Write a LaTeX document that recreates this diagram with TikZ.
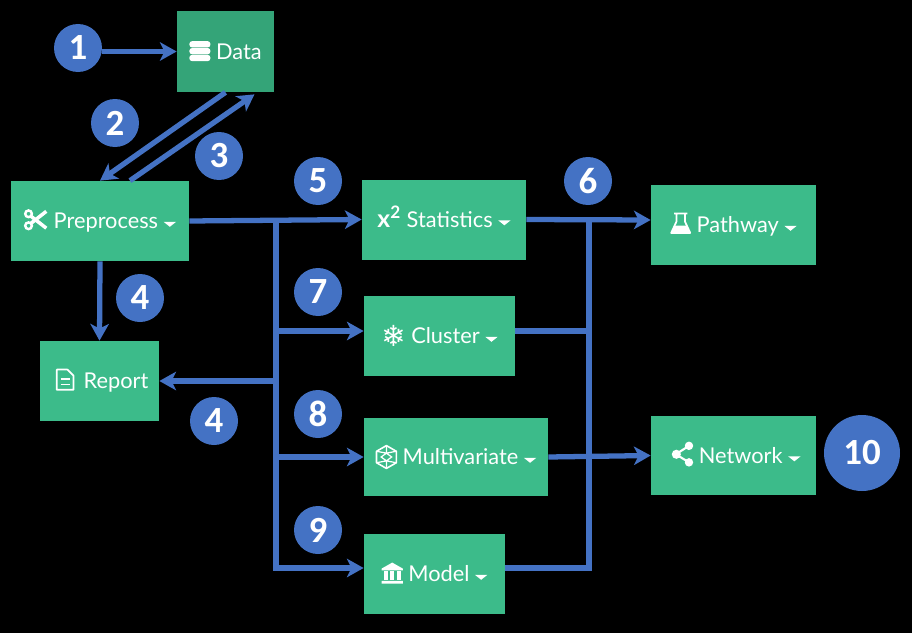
\documentclass[tikz,border=0pt]{standalone}
\usepackage{fontspec}
\setmainfont{Lato}
\newfontfamily\digitfont{Carlito}
\newfontfamily\symfont{DejaVu Sans}
\usepackage{tikz}
\usetikzlibrary{arrows.meta,positioning}

\definecolor{flowblue}{HTML}{4472C4}
\definecolor{boxgreen}{HTML}{3CBB8A}
\definecolor{datagreen}{HTML}{34A478}

\newcommand{\caretmark}{\tikz[x=1pt,y=1pt,baseline=0pt]{\fill[white] (0,4) -- (7,4) -- (3.5,1.2) -- cycle;}}
\newcommand{\dbicon}{\tikz[x=1pt,y=1pt,baseline=0pt]{
  \foreach \y in {0,3.9,7.8} \fill[white,rounded corners=1.6pt] (0,\y-1) rectangle (12,\y+2.6);}}
\newcommand{\scissoricon}{\tikz[x=1pt,y=1pt,baseline=0pt]{
  \draw[white,line width=1.4pt] (2.4,1.8) circle (1.9) (2.4,8.6) circle (1.9);
  \draw[white,line width=2pt] (3.8,3.2) -- (12.5,10) (3.8,7.2) -- (12.5,0.4);}}
\newcommand{\snowicon}{\raisebox{-1.5pt}{\symfont\fontsize{16.5}{15}\selectfont\bfseries ❄}}
\newcommand{\fileicon}{\tikz[x=1pt,y=1pt,baseline=0pt]{
  \draw[white,line width=1pt,line join=round] (0,-0.5) -- (0,11) -- (6,11) -- (9.5,7.5) -- (9.5,-0.5) -- cycle;
  \draw[white,line width=0.9pt] (2.2,5.6) -- (7.3,5.6) (2.2,2.6) -- (7.3,2.6);}}
\newcommand{\flaskicon}{\tikz[x=1pt,y=1pt,baseline=0pt]{
  \draw[white,line width=1pt,line join=round] (2.2,11) -- (9.8,11) (3.6,11) -- (3.6,6.5) -- (0.6,0) -- (11.4,0) -- (8.4,6.5) -- (8.4,11);
  \fill[white] (2.5,4.2) -- (9.5,4.2) -- (11.4,0) -- (0.6,0) -- cycle;}}
\newcommand{\cubeicon}{\tikz[x=1pt,y=1pt,baseline=-4.5pt]{
  \draw[white,line width=0.9pt,line join=round] (30:6.5) -- (90:6.5) -- (150:6.5) -- (210:6.5) -- (270:6.5) -- (330:6.5) -- cycle;
  \draw[white,line width=0.7pt] (30:6.5) -- (0,2.2) -- (150:6.5) (210:6.5) -- (0,-2.2) -- (330:6.5) (0,6.5) -- (0,2.2) (0,-6.5) -- (0,-2.2) (0,2.2) -- (3,0) -- (0,-2.2) -- (-3,0) -- cycle;}}
\newcommand{\shareicon}{\tikz[x=1pt,y=1pt,baseline=0pt]{
  \draw[white,line width=1.2pt] (9,10) -- (1.5,5.2) -- (9,0.6);
  \fill[white] (1.8,5.2) circle (2.6) (9,10) circle (2.4) (9,0.6) circle (2.4);}}
\newcommand{\bankicon}{\tikz[x=1pt,y=1pt,baseline=0pt]{
  \fill[white] (0,7.6) -- (6,11) -- (12,7.6) -- (12,6.6) -- (0,6.6) -- cycle (0,-1) rectangle (12,0.6);
  \foreach \x in {1.2,4.9,8.6} \fill[white] (\x,1.2) rectangle (\x+2.2,6);}}
\newcommand{\chiicon}{{\fontsize{14}{15}\selectfont\bfseries x\textsuperscript{2}}}

\begin{document}
\begin{tikzpicture}[
  stepbox/.style={rectangle,fill=boxgreen,text=white,inner sep=0pt,text height=10.5pt,text depth=1.5pt,
                  font=\fontsize{12.4}{15}\selectfont},
  badge/.style={circle,fill=flowblue,text=white,inner sep=0pt,minimum size=0.96cm,
                font=\digitfont\fontsize{21}{24}\bfseries\selectfont},
  flow/.style={draw=flowblue,line width=3pt},
  flowto/.style={flow,-{Stealth[length=9.5pt,width=10.5pt,inset=2.6pt]}},
]
  \fill[black] (0,0) rectangle (18.24,12.66);

  \node[stepbox,fill=datagreen,minimum width=1.94cm,minimum height=1.62cm] (data) at (4.51,11.63) {\dbicon\ Data\hspace{-2pt}};
  \node[stepbox,minimum width=3.56cm,minimum height=1.60cm] (prep)   at (2.00,8.24) {\scissoricon\ Preprocess\ \caretmark};
  \node[stepbox,minimum width=2.38cm,minimum height=1.60cm] (report) at (1.99,5.04) {\hspace{3pt}\fileicon\ \,Report};
  \node[stepbox,minimum width=3.28cm,minimum height=1.60cm] (stats)  at (8.88,8.27) {\chiicon\ Statistics\ \caretmark};
  \node[stepbox,minimum width=3.02cm,minimum height=1.61cm] (clus)   at (8.79,5.94) {\snowicon\ Cluster\ \caretmark};
  \node[stepbox,minimum width=3.68cm,minimum height=1.57cm] (multi)  at (9.12,3.52) {\cubeicon\ Multivariate\ \caretmark\hspace{4pt}};
  \node[stepbox,minimum width=2.82cm,minimum height=1.60cm] (model)  at (8.69,1.18) {\bankicon\ Model\ \caretmark};
  \node[stepbox,minimum width=3.30cm,minimum height=1.61cm] (path)   at (14.67,8.16) {\flaskicon\ Pathway\ \caretmark\hspace{7pt}};
  \node[stepbox,minimum width=3.30cm,minimum height=1.58cm] (net)    at (14.67,3.55) {\hspace{3pt}\shareicon\ Network\ \caretmark};

  \foreach \n/\x/\y/\t in {a/1.56/11.70/1,b/2.30/10.20/2,c/4.38/9.54/3,d/2.80/6.70/4,e/4.28/4.24/4,
                           f/6.36/9.04/5,g/11.76/9.04/6,h/6.36/6.82/7,i/6.36/4.38/8,j/6.36/2.06/9}
    \node[badge] (n\n) at (\x,\y) {\t};
  \node[badge,minimum size=1.52cm] (nk) at (17.24,3.60) {10};

  \coordinate (left)  at (5.52,8.24);
  \coordinate (right) at (11.78,8.26);
  \coordinate (clusout) at ([yshift=0.10cm]clus.east);
  \coordinate (modelout) at ([yshift=0.12cm]model.east);

  \draw[flowto] (na.east |- data.west) -- (data.west);
  \draw[flowto] (data.south) -- (prep.north);
  \draw[flowto] ([xshift=0.60cm]prep.north) -- ([xshift=0.58cm,yshift=-0.04cm]data.south);
  \draw[flowto] (prep.south) -- (report.north);

  \draw[flowto] (prep.east) -- (stats.west);
  \draw[flowto] (left) |- ([yshift=0.12cm]model.west);
  \draw[flowto] (left |- clusout) -- ([yshift=0.10cm]clus.west);
  \draw[flowto] (left |- report.east) -- (report.east);
  \draw[flowto] (left |- multi.west) -- (multi.west);

  \draw[flowto] (stats.east) -- ([yshift=0.10cm]path.west);
  \draw[flow] (clusout) -- (right |- clusout);
  \draw[flowto] (multi.east) -- (net.west);
  \draw[flow] (modelout) -| (right);
\end{tikzpicture}
\end{document}
